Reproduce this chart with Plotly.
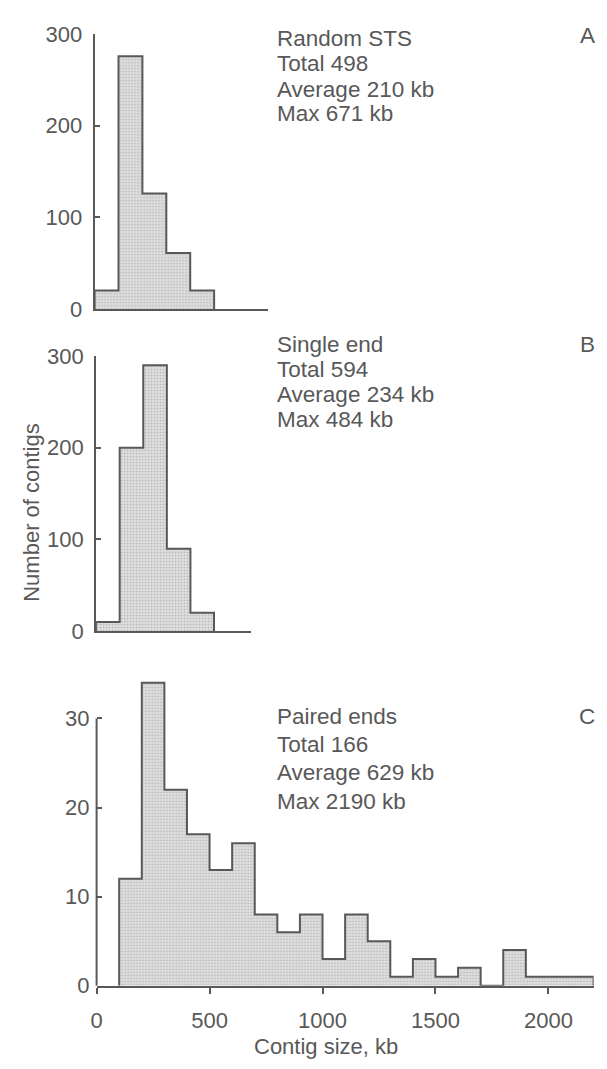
import plotly.graph_objects as go

W, H = 607, 1069

# ---------------- data ----------------
a_edges = [0, 100, 200, 300, 400, 500]
a_counts = [20, 276, 126, 61, 20]
b_edges = [0, 100, 200, 300, 400, 500]
b_counts = [10, 200, 290, 90, 20]
c_edges = list(range(100, 2300, 100))
c_counts = [12, 34, 22, 17, 13, 16, 8, 6, 8, 3, 8, 5, 1, 3, 1, 2, 0, 4, 1, 1, 1]

a_text = ["Random STS", "Total 498", "Average 210 kb", "Max 671 kb"]
b_text = ["Single end", "Total 594", "Average 234 kb", "Max 484 kb"]
c_text = ["Paired ends", "Total 166", "Average 629 kb", "Max 2190 kb"]
panel_letters = ["A", "B", "C"]
ab_yticks = [0, 100, 200, 300]
c_yticks = [0, 10, 20, 30]
c_xticks = [0, 500, 1000, 1500, 2000]

INK = "#585858"
FILL = "#d5d5d5"
FONT = "Liberation Sans"
FS = 22
TFS = 22.5


def px(x):
    return x / W


def py(y):
    return 1 - y / H


def step(edges, counts):
    xs, ys = [edges[0]], [0]
    for e, c in zip(edges[:-1], counts):
        xs.append(e)
        ys.append(c)
    xs += [edges[-1], edges[-1]]
    ys += [counts[-1], 0]
    return xs, ys


fig = go.Figure()

for i, (edges, counts) in enumerate([(a_edges, a_counts), (b_edges, b_counts), (c_edges, c_counts)]):
    xs, ys = step(edges, counts)
    sfx = "" if i == 0 else str(i + 1)
    fig.add_trace(go.Scatter(
        x=xs, y=ys, mode="lines", line=dict(shape="hv", color=INK, width=2),
        fill="tozeroy", fillcolor=FILL,
        fillpattern=dict(shape=".", bgcolor="#e2e2e2", fgcolor="#8f8f8f", size=3, solidity=0.35),
        xaxis="x" + sfx, yaxis="y" + sfx,
        showlegend=False, hoverinfo="skip"))

axfont = dict(family=FONT, size=FS, color=INK)

common_y = dict(showgrid=False, zeroline=False, showline=True, linecolor=INK, linewidth=2,
                ticks="inside", ticklen=5, tickwidth=2, tickcolor=INK, tickfont=axfont,
                ticklabelstandoff=6)
common_x = dict(showgrid=False, zeroline=False, showline=True, linecolor=INK, linewidth=2)

fig.update_layout(
    width=W, height=H, margin=dict(l=0, r=0, t=0, b=0),
    paper_bgcolor="white", plot_bgcolor="white",
    xaxis=dict(domain=[px(89.5), px(264.5)], range=[0, 725], anchor="y",
               showticklabels=False, ticks="", **common_x),
    yaxis=dict(domain=[py(304), py(22.7)], range=[0, 300], anchor="x",
               tickvals=ab_yticks, **common_y),
    xaxis2=dict(domain=[px(91), px(247)], range=[0, 655], anchor="y2",
                showticklabels=False, ticks="", **common_x),
    yaxis2=dict(domain=[py(634), py(352.3)], range=[0, 300], anchor="x2",
                tickvals=ab_yticks, **common_y),
    xaxis3=dict(domain=[px(91.5), px(593.5)], range=[0, 2200], anchor="y3",
                tickvals=c_xticks, ticks="outside", ticklen=6, tickwidth=2, tickcolor=INK,
                tickfont=axfont, ticklabelstandoff=8, **common_x),
    yaxis3=dict(domain=[py(997), py(997 - 35 * 9.12)], range=[0, 35], anchor="x3",
                tickvals=c_yticks, **{**common_y, "showline": False}),
)

# y-axis spine of panel C only spans 0..30
fig.add_shape(type="line", xref="paper", yref="y3", x0=px(91.5), x1=px(91.5), y0=0, y1=30,
              line=dict(color=INK, width=2))


def add_text(lines, x, ys):
    for t, y in zip(lines, ys):
        fig.add_annotation(text=t, xref="paper", yref="paper", x=px(x), y=py(y),
                           xanchor="left", yanchor="middle", showarrow=False,
                           font=dict(family=FONT, size=TFS, color=INK))


add_text(a_text, 272, [27, 53, 79, 104])
add_text(b_text, 272, [340, 366, 392, 417])
add_text(c_text, 272, [721, 750, 779, 808])

for letter, y in zip(panel_letters, [24, 340, 721]):
    fig.add_annotation(text=letter, xref="paper", yref="paper", x=px(587), y=py(y),
                       xanchor="center", yanchor="middle", showarrow=False,
                       font=dict(family=FONT, size=TFS, color=INK))

fig.add_annotation(text="Number of contigs", xref="paper", yref="paper", x=px(25), y=py(512),
                   xanchor="center", yanchor="middle", textangle=-90, showarrow=False,
                   font=dict(family=FONT, size=FS, color=INK))
fig.add_annotation(text="Contig size, kb", xref="paper", yref="paper", x=px(323), y=py(1059),
                   xanchor="center", yanchor="middle", showarrow=False,
                   font=dict(family=FONT, size=FS, color=INK))

fig.write_html(
    "out.html",
    config={"displayModeBar": False},
    post_script="document.body.style.margin='0';document.body.style.overflow='hidden';",
)
